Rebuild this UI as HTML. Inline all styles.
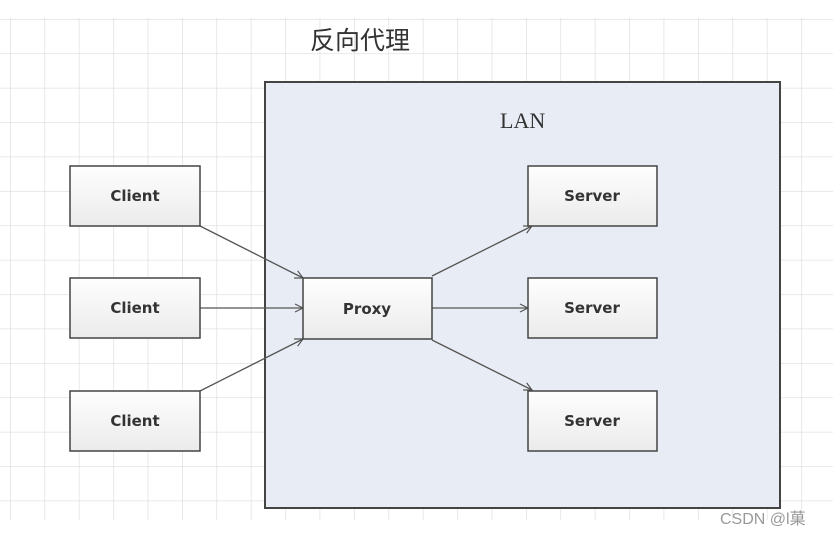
<!DOCTYPE html>
<html><head><meta charset="utf-8"><style>
body{margin:0;background:#fff;width:833px;height:536px;overflow:hidden}
</style></head><body>
<svg width="833" height="536" xmlns="http://www.w3.org/2000/svg">
<defs>
<pattern id="g" x="10" y="19" width="34.4" height="34.4" patternUnits="userSpaceOnUse">
<path d="M0 0H34.4M0 0V34.4" stroke="#dcdcdc" stroke-width="1.3" fill="none"/>
</pattern>
<linearGradient id="bx" x1="0" y1="0" x2="0" y2="1"><stop offset="0" stop-color="#fefefe"/><stop offset="1" stop-color="#ebebeb"/></linearGradient>
<marker id="a" markerWidth="10" markerHeight="10" refX="9" refY="5" orient="auto" markerUnits="userSpaceOnUse"><path d="M1 1L9 5L1 9" fill="none" stroke="#555" stroke-width="1.2"/></marker>
</defs>
<rect x="0" y="18" width="833" height="502" fill="url(#g)"/>
<text x="310" y="49" font-family="Liberation Sans,'Noto Sans CJK SC',sans-serif" font-size="25" fill="#333">反向代理</text>
<rect x="265" y="82" width="515" height="426" fill="#e8ecf4" stroke="#444" stroke-width="2"/>
<text x="500" y="128" font-family="Liberation Serif,serif" font-size="22" fill="#333">LAN</text>
<g stroke="#555" stroke-width="1.3" marker-end="url(#a)">
<line x1="200" y1="226" x2="303" y2="278"/>
<line x1="200" y1="308" x2="303" y2="308"/>
<line x1="200" y1="391" x2="303" y2="339"/>
<line x1="432" y1="276" x2="532" y2="226"/>
<line x1="432" y1="308" x2="528" y2="308"/>
<line x1="432" y1="340" x2="532" y2="390"/>
</g>
<g stroke="#444" stroke-width="1.5" fill="url(#bx)">
<rect x="70" y="166" width="130" height="60"/><rect x="70" y="278" width="130" height="60"/><rect x="70" y="391" width="130" height="60"/>
<rect x="303" y="278" width="129" height="61"/>
<rect x="528" y="166" width="129" height="60"/><rect x="528" y="278" width="129" height="60"/><rect x="528" y="391" width="129" height="60"/>
</g>
<g font-family="DejaVu Sans,sans-serif" font-weight="bold" font-size="15" fill="#333" text-anchor="middle">
<text x="135" y="201">Client</text><text x="135" y="313">Client</text><text x="135" y="426">Client</text>
<text x="367" y="314">Proxy</text>
<text x="592" y="201">Server</text><text x="592" y="313">Server</text><text x="592" y="426">Server</text>
</g>
<text x="720" y="524" font-family="Liberation Sans,'Noto Sans CJK SC',sans-serif" font-size="16" fill="#999">CSDN @l菓</text>
</svg>
</body></html>
